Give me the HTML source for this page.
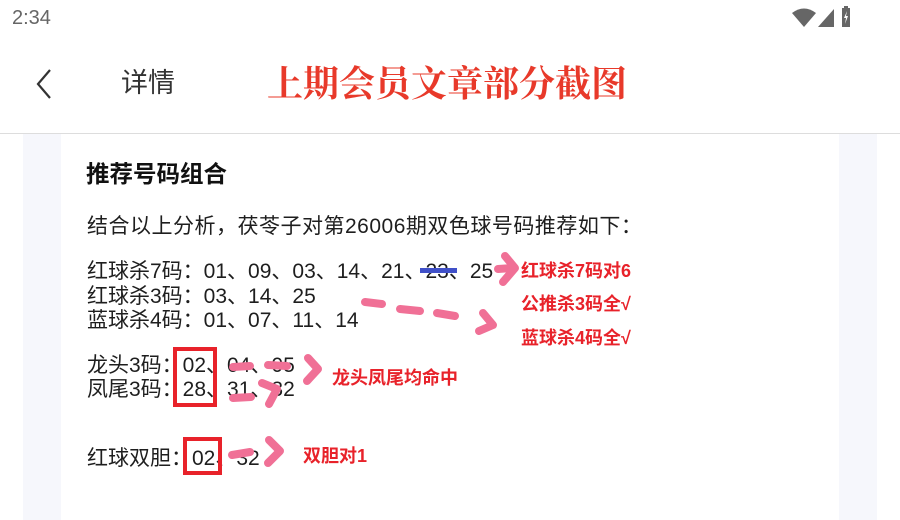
<!DOCTYPE html>
<html><head><meta charset="utf-8">
<style>
body{margin:0;width:900px;height:520px;background:#fff;position:relative;overflow:hidden;font-family:"Liberation Sans","Noto Sans CJK SC",sans-serif;color:#222}
.a{position:absolute;white-space:nowrap;line-height:1}
.t{font-size:21px;color:#1e1e1e}
.r{font-size:18px;font-weight:bold;color:#e8222a}
</style></head><body>
<div class="a" style="left:12px;top:8px;font-size:20px;color:#666">2:34</div>
<svg class="a" style="left:790px;top:0" width="110" height="40">
<path d="M2,13 Q14,4 26,13 L14,27 Z" fill="#666"/>
<path d="M28,27 L44,9 L44,27 Z" fill="#666"/>
<rect x="52" y="8" width="8" height="19" fill="#666"/><rect x="54" y="6" width="4" height="3" fill="#666"/>
<path d="M57,11 L54,18 L56,18 L55,24 L58,16 L56,16 Z" fill="#fff"/>
</svg>
<svg class="a" style="left:30px;top:66px" width="30" height="36"><path d="M20,4 L8,18 L20,32" stroke="#333" stroke-width="2.2" fill="none"/></svg>
<div class="a" style="left:121px;top:70px;font-size:27px;color:#333">详情</div>
<div class="a" style="left:267px;top:64px;font-size:36px;color:#e8392a;font-family:'Noto Serif CJK SC',serif;font-weight:bold">上期会员文章部分截图</div>
<div class="a" style="left:0;top:133px;width:900px;height:1px;background:#ddd"></div>
<div class="a" style="left:23px;top:134px;width:38px;height:386px;background:#f6f7fc"></div>
<div class="a" style="left:839px;top:134px;width:38px;height:386px;background:#f6f7fc"></div>
<div class="a" style="left:86px;top:163px;font-size:23.5px;font-weight:bold;color:#111">推荐号码组合</div>
<div class="a t" style="left:87px;top:216px;letter-spacing:0.5px">结合以上分析，茯苓子对第26006期双色球号码推荐如下：</div>
<div class="a t" style="left:87px;top:261px">红球杀7码：01、09、03、14、21、23、25</div>
<div class="a t" style="left:87px;top:286px">红球杀3码：03、14、25</div>
<div class="a t" style="left:87px;top:310px">蓝球杀4码：01、07、11、14</div>
<div class="a t" style="left:87px;top:355px">龙头3码：02、04、05</div>
<div class="a t" style="left:87px;top:379px">凤尾3码：28、31、32</div>
<div class="a t" style="left:87px;top:448px">红球双胆：02、32</div>
<div class="a r" style="left:521px;top:262px">红球杀7码对6</div>
<div class="a r" style="left:521px;top:295px">公推杀3码全√</div>
<div class="a r" style="left:521px;top:329px">蓝球杀4码全√</div>
<div class="a r" style="left:332px;top:369px">龙头凤尾均命中</div>
<div class="a r" style="left:303px;top:447px">双胆对1</div>
<svg class="a" style="left:0;top:0" width="900" height="520">
<rect x="420" y="268" width="37" height="5" fill="#4050c8"/>
<rect x="175" y="349" width="40" height="56" fill="none" stroke="#e8222a" stroke-width="4"/>
<rect x="185" y="439" width="35" height="34" fill="none" stroke="#e8222a" stroke-width="4"/>
<g stroke="#f07096" stroke-width="8" stroke-linecap="round" stroke-linejoin="round" fill="none">
<path d="M498,269 L512,268"/><path d="M505,256 L515,268 L503,282"/>
<path d="M365,302 L382,304"/><path d="M400,309 L420,311"/><path d="M437,313 L455,316"/><path d="M483,313 L493,325 L479,331"/>
<path d="M233,367 L250,366"/><path d="M268,365 L287,366"/><path d="M308,358 L318,369 L307,381"/>
<path d="M233,398 L251,397"/><path d="M262,383 L277,389 L269,404"/>
<path d="M232,455 L250,452"/><path d="M269,440 L280,451 L268,463"/>
</g>
</svg>
</body></html>
